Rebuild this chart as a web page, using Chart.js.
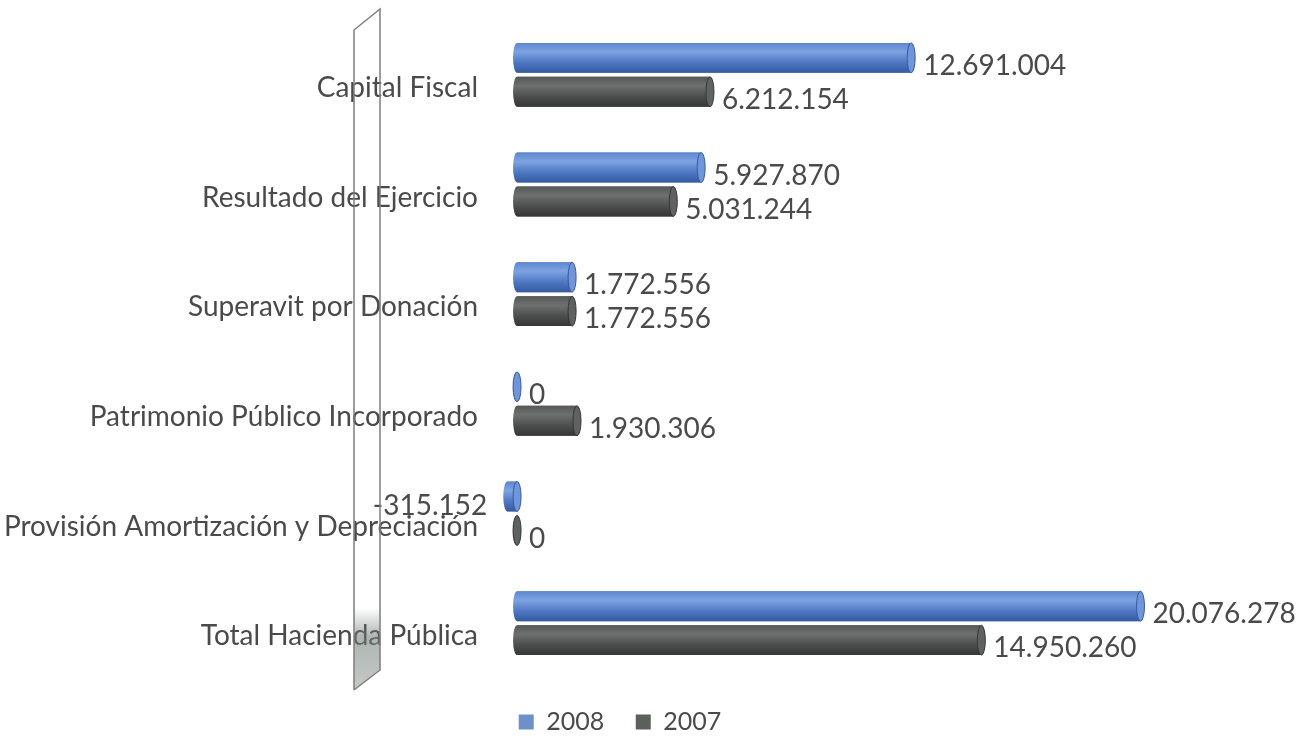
<!DOCTYPE html>
<html>
<head>
<meta charset="utf-8">
<script src="https://cdn.jsdelivr.net/npm/chart.js@4"></script>
<style>
  html, body { margin: 0; padding: 0; background: #ffffff; }
  #wrap { width: 1301px; height: 748px; position: relative; }
</style>
</head>
<body>
<div id="wrap"><canvas id="c" width="1301" height="748"></canvas></div>
<script>
const categories = [
  'Capital Fiscal',
  'Resultado del Ejercicio',
  'Superavit por Donación',
  'Patrimonio Público Incorporado',
  'Provisión Amortización y Depreciación',
  'Total Hacienda Pública'
];
const seriesNames = ['2008', '2007'];
const values2008 = [12691004, 5927870, 1772556, 0, -315152, 20076278];
const values2007 = [6212154, 5031244, 1772556, 1930306, 0, 14950260];

const FONT = 'Lato, "Open Sans", sans-serif';
const TEXT = '#4a4a4a';

const palettes = [
  { base: '#4f79c4', top: '#5c86cf', hi: '#7ea3e2', bottom: '#355aa0', cap: '#6f96da', legend: '#6d8fca' },
  { base: '#4c4f4e', top: '#555857', hi: '#6c706e', bottom: '#343736', cap: '#5e6260', legend: '#5b605b' }
];

function fmt(v) {
  const s = Math.abs(v).toString().replace(/\B(?=(\d{3})+(?!\d))/g, '.');
  return (v < 0 ? '-' : '') + s;
}

const cylinderPlugin = {
  id: 'cylinders',
  afterDatasetsDraw(chart) {
    const ctx = chart.ctx;
    chart.data.datasets.forEach((ds, di) => {
      const meta = chart.getDatasetMeta(di);
      const p = palettes[di];
      meta.data.forEach((el, i) => {
        const h = el.height;
        const top = el.y - h / 2;
        const x0 = Math.min(el.base, el.x);
        const x1 = Math.max(el.base, el.x);
        const rx = 4;
        ctx.save();
        const g = ctx.createLinearGradient(0, top, 0, top + h);
        g.addColorStop(0, p.top);
        g.addColorStop(0.3, p.hi);
        g.addColorStop(0.65, p.base);
        g.addColorStop(1, p.bottom);
        ctx.fillStyle = g;
        ctx.beginPath();
        ctx.ellipse(x0, el.y, rx, h / 2, 0, Math.PI / 2, Math.PI * 1.5);
        ctx.lineTo(x1, top);
        ctx.lineTo(x1, top + h);
        ctx.closePath();
        ctx.fill();
        ctx.beginPath();
        ctx.ellipse(x1, el.y, rx, h / 2, 0, 0, Math.PI * 2);
        ctx.fillStyle = p.cap;
        ctx.fill();
        ctx.lineWidth = 1;
        ctx.strokeStyle = p.bottom;
        ctx.stroke();
        ctx.restore();
      });
    });
  }
};

const labelPlugin = {
  id: 'valueLabels',
  afterDatasetsDraw(chart) {
    const ctx = chart.ctx;
    ctx.save();
    ctx.font = '28px ' + FONT;
    ctx.fillStyle = TEXT;
    ctx.textBaseline = 'middle';
    chart.data.datasets.forEach((ds, di) => {
      const meta = chart.getDatasetMeta(di);
      meta.data.forEach((el, i) => {
        const v = ds.data[i];
        if (v < 0) {
          ctx.textAlign = 'right';
          ctx.fillText(fmt(v), el.x - 20, el.y + 9);
        } else {
          ctx.textAlign = 'left';
          ctx.fillText(fmt(v), el.x + 12, el.y + 8);
        }
      });
    });
    ctx.restore();
  }
};

const wallPlugin = {
  id: 'wall',
  afterDraw(chart) {
    const a = chart.chartArea;
    const ctx = chart.ctx;
    const lx = a.left - 132, rx = a.left - 106;
    const lTop = a.top + 10, rTop = a.top - 11;
    const lBot = a.bottom + 12, rBot = a.bottom - 8;
    ctx.save();
    const sTop = a.bottom - 70;
    const g = ctx.createLinearGradient(0, sTop, 0, lBot);
    g.addColorStop(0, 'rgba(110,120,115,0)');
    g.addColorStop(0.35, 'rgba(110,120,115,0.55)');
    g.addColorStop(1, 'rgba(150,158,152,0.55)');
    ctx.fillStyle = g;
    ctx.beginPath();
    ctx.moveTo(lx, sTop);
    ctx.lineTo(rx, sTop);
    ctx.lineTo(rx, rBot);
    ctx.lineTo(lx, lBot);
    ctx.closePath();
    ctx.fill();
    ctx.strokeStyle = '#7d7d7d';
    ctx.lineWidth = 1.5;
    ctx.beginPath();
    ctx.moveTo(lx, lBot);
    ctx.lineTo(lx, lTop);
    ctx.lineTo(rx, rTop);
    ctx.lineTo(rx, rBot);
    ctx.lineTo(lx, lBot);
    ctx.stroke();
    ctx.restore();
  }
};

new Chart(document.getElementById('c'), {
  type: 'bar',
  data: {
    labels: categories,
    datasets: [
      { label: seriesNames[0], data: values2008, backgroundColor: palettes[0].legend, borderWidth: 0,
        categoryPercentage: 0.62, barPercentage: 0.88 },
      { label: seriesNames[1], data: values2007, backgroundColor: palettes[1].legend, borderWidth: 0,
        categoryPercentage: 0.62, barPercentage: 0.88 }
    ]
  },
  options: {
    indexAxis: 'y',
    responsive: false,
    animation: false,
    devicePixelRatio: 1,
    layout: { padding: { left: 0, right: 61, top: 20, bottom: 3.5 } },
    scales: {
      x: {
        display: false,
        min: -1000000,
        max: 23280000
      },
      y: {
        grid: { display: false, drawTicks: false },
        border: { display: false },
        ticks: {
          font: { family: FONT, size: 28 },
          color: TEXT,
          padding: 8,
          labelOffset: 13
        },
        afterFit(s) { s.width = 486; s.paddingTop = 0; s.paddingBottom = 0; }
      }
    },
    plugins: {
      legend: {
        position: 'bottom',
        labels: {
          font: { family: FONT, size: 25 },
          color: TEXT,
          boxWidth: 15,
          boxHeight: 15,
          padding: 31.5
        }
      },
      tooltip: { enabled: false }
    }
  },
  plugins: [cylinderPlugin, labelPlugin, wallPlugin]
});
</script>
</body>
</html>
